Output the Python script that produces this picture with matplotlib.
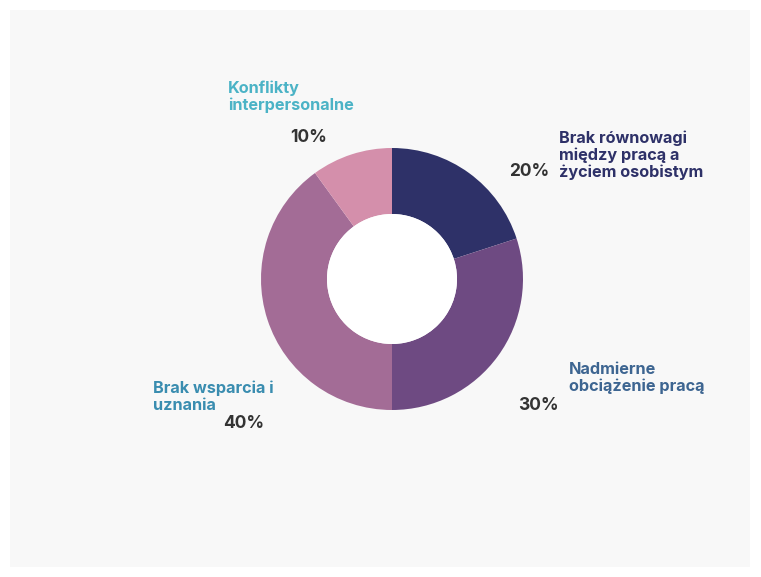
import matplotlib.pyplot as plt
from matplotlib.patches import Rectangle, Circle

labels = ['Brak równowagi\nmiędzy pracą a\nżyciem osobistym', 'Nadmierne\nobciążenie pracą',
          'Brak wsparcia i\nuznania', 'Konflikty\ninterpersonalne']
values = [20, 30, 40, 10]
pct_labels = ['20%', '30%', '40%', '10%']
colors = ['#2e3168', '#6e4a82', '#a36c96', '#d48fab']
label_colors = ['#2e3168', '#3d6591', '#3a8db0', '#4bb3c6']

# label / percentage positions in pixel coords (from top-left)
label_pos = [(559, 131), (569, 362), (153, 381), (228, 81)]
pct_pos = [(529, 172), (538, 406), (244, 423), (309, 137)]

W, H = 761, 577
cx, cy, r_out, r_in = 392, H - 279, 131, 65

fig = plt.figure(figsize=(W / 100, H / 100), dpi=100, facecolor='white')
fig.patches.append(Rectangle((10 / W, 10 / H), 740 / W, 557 / H, transform=fig.transFigure,
                             facecolor='#f8f8f8', edgecolor='none', zorder=-10))
ax = fig.add_axes([0, 0, 1, 1])
ax.set_facecolor('none')
ax.pie(values, colors=colors, startangle=90, counterclock=False, center=(cx, cy),
       radius=r_out, wedgeprops=dict(width=r_out - r_in, edgecolor='none'))
ax.add_patch(Circle((cx, cy), r_in, facecolor='white', edgecolor='none'))
ax.set_xlim(0, W)
ax.set_ylim(0, H)
ax.set_aspect('equal')
ax.axis('off')

font = 'Inter'
for lab, (x, y), c in zip(labels, label_pos, label_colors):
    ax.text(x, H - y, lab, color=c, fontsize=11.7, fontweight='bold', family=font,
            ha='left', va='top', linespacing=1.1)
for p, (x, y) in zip(pct_labels, pct_pos):
    ax.text(x, H - y, p, color='#333333', fontsize=12.5, fontweight='bold', family=font,
            ha='center', va='center')

fig.savefig('out.png', dpi=100, facecolor='white')
